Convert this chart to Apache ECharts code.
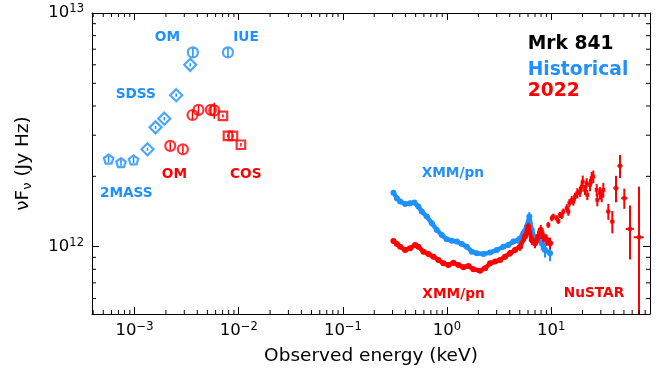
<!DOCTYPE html>
<html><head><meta charset="utf-8">
<script src="https://cdn.jsdelivr.net/npm/echarts@6/dist/echarts.min.js"></script>
<style>html,body{margin:0;padding:0;background:#fff}#c{width:662px;height:371px}</style>
</head><body><div id="c"></div>
<script>
// ---------- axis limits & ticks ----------
const X_MIN = 3.9e-4, X_MAX = 89;
const Y_MIN = 5.15e11, Y_MAX = 1e13;
const xMinorTicks = [4e-4,5e-4,6e-4,7e-4,8e-4,9e-4,2e-3,3e-3,4e-3,5e-3,6e-3,7e-3,8e-3,9e-3,
  2e-2,3e-2,4e-2,5e-2,6e-2,7e-2,8e-2,9e-2,0.2,0.3,0.4,0.5,0.6,0.7,0.8,0.9,2,3,4,5,6,7,8,9,20,30,40,50,60,70,80];
const yMinorTicks = [6e11,7e11,8e11,9e11,2e12,3e12,4e12,5e12,6e12,7e12,8e12,9e12];

// ---------- Historical (blue) ----------
const twoMassE = [5.63e-4, 7.40e-4, 9.78e-4];
const twoMassF = [2.37e12, 2.29e12, 2.35e12];
const twoMassErr = [0.07e12, 0.07e12, 0.07e12];
const sdssE = [1.33e-3, 1.59e-3, 1.93e-3, 2.51e-3, 3.42e-3];
const sdssF = [2.61e12, 3.24e12, 3.53e12, 4.45e12, 6.0e12];
const sdssErr = [0.04e12, 0.05e12, 0.06e12, 0.07e12, 0.1e12];
const omHistE = [3.63e-3];
const omHistF = [6.78e12];
const omHistErr = [0.3e12];
const iueE = [7.88e-3];
const iueF = [6.78e12];
const iueErr = [0.3e12];
const xmmHistE = [0.306,0.330,0.355,0.396,0.442,0.487,0.531,0.573,0.640,0.715,0.798,0.891,0.995,1.112,1.242,1.387,1.549,1.730,1.932,2.235,2.592,3.006,3.478,3.885,4.338,4.845,5.410,5.833,6.178,6.514,7.007,7.540,8.124,8.740,9.760];
const xmmHistF = [1.703,1.612,1.559,1.524,1.535,1.544,1.484,1.413,1.345,1.260,1.179,1.122,1.076,1.061,1.051,1.027,1.000,0.952,0.937,0.930,0.943,0.968,1.000,1.017,1.051,1.068,1.141,1.218,1.345,1.179,1.068,1.104,1.034,0.968,0.937];
const xmmHistErr = [0.01,0.01,0.01,0.01,0.01,0.01,0.01,0.01,0.01,0.01,0.01,0.01,0.01,0.01,0.01,0.01,0.01,0.01,0.015,0.015,0.02,0.02,0.025,0.03,0.03,0.04,0.05,0.06,0.06,0.06,0.06,0.07,0.07,0.07,0.07];

// ---------- 2022 (red) ----------
const omNewE = [2.20e-3, 2.91e-3, 3.60e-3, 4.11e-3, 5.41e-3, 5.82e-3];
const omNewF = [2.70e12, 2.61e12, 3.66e12, 3.85e12, 3.85e12, 3.83e12];
const omNewErr = [0.1e12, 0.1e12, 0.15e12, 0.15e12, 0.15e12, 0.3e12];
const cosE = [7.05e-3, 7.88e-3, 8.80e-3, 1.05e-2];
const cosF = [3.63e12, 2.98e12, 2.98e12, 2.73e12];
const cosErr = [0.06e12, 0.05e12, 0.05e12, 0.05e12];
const xmmNewE = [0.306,0.330,0.355,0.396,0.442,0.494,0.531,0.594,0.663,0.741,0.827,0.924,1.031,1.152,1.286,1.437,1.605,1.792,2.078,2.321,2.592,2.895,3.233,3.611,4.033,4.504,5.029,5.616,6.040,6.514,7.007,7.540,7.946,8.418,9.075,9.760];
const xmmNewF = [1.058,1.027,1.000,0.968,0.984,1.017,1.000,0.952,0.930,0.906,0.877,0.849,0.835,0.854,0.835,0.816,0.827,0.800,0.789,0.808,0.849,0.863,0.877,0.906,0.937,0.968,1.000,1.104,1.218,1.068,1.034,1.104,1.179,1.104,1.068,1.034];
const xmmNewErr = [0.01,0.01,0.01,0.01,0.01,0.01,0.01,0.01,0.01,0.01,0.01,0.01,0.01,0.01,0.01,0.01,0.01,0.01,0.015,0.015,0.02,0.02,0.02,0.025,0.03,0.03,0.04,0.05,0.05,0.05,0.05,0.06,0.06,0.06,0.06,0.06];
const nuE = [9.40,10.13,10.50,11.32,11.73,12.17,12.64,13.10,14.12,14.63,14.96,15.77,16.33,16.96,17.84,18.94,19.66,20.11,21.15,21.96,22.26,23.62,24.52,25.41,27.39,27.76,29.47,30.59,31.70,35.40,38.67,41.97,45.84,50.42,57.18,69.77];
const nuF = [1.239,1.323,1.345,1.323,1.288,1.367,1.354,1.413,1.461,1.413,1.535,1.585,1.559,1.637,1.694,1.720,1.807,1.899,1.750,1.869,1.665,1.838,1.969,1.995,1.750,1.585,1.694,1.649,1.750,1.413,1.280,1.779,2.217,1.612,1.191,1.097];
const nuErr = [0.037,0.040,0.040,0.040,0.039,0.041,0.041,0.042,0.058,0.057,0.061,0.063,0.062,0.065,0.085,0.086,0.090,0.116,0.088,0.093,0.083,0.112,0.120,0.122,0.107,0.097,0.103,0.101,0.124,0.11,0.14,0.23,0.25,0.16,0.31,0.71];
const nuXErr = [0.33,0.35,0.37,0.40,0.41,0.43,0.44,0.46,0.49,0.51,0.52,0.55,0.57,0.59,0.62,0.66,0.69,0.70,0.74,0.77,0.78,0.83,0.86,0.89,0.96,0.97,1.03,1.07,1.11,1.6,1.8,2.4,2.6,3.4,5.1,7.7];
const SCALE = 1e12; // XMM/NuSTAR arrays are in units of 1e12 Jy Hz

// ---------- styles ----------
const BLUE = '#1E90FF', RED = '#FF0000';
const FONT = '"DejaVu Sans", sans-serif';
const pentagon = 'path://M0,-10 L9.511,-3.09 L5.878,8.09 L-5.878,8.09 L-9.511,-3.09 Z';

function pts(E, F, k) { return E.map((e, i) => [e, F[i] * (k || 1)]); }
function errPts(E, F, ey, ex, k) { k = k || 1; return E.map((e, i) => [e, F[i] * k, ey[i] * k, ex ? ex[i] : 0]); }

function errRender(color, lw) {
  return function (params, api) {
    const x = api.value(0), y = api.value(1), ey = api.value(2), ex = api.value(3);
    const ch = [];
    if (ey > 0) {
      const top = api.coord([x, Math.min(y + ey, Y_MAX)]);
      const bot = api.coord([x, Math.max(y - ey, Y_MIN)]);
      ch.push({ type: 'line', shape: { x1: top[0], y1: top[1], x2: bot[0], y2: bot[1] }, style: { stroke: color, lineWidth: lw } });
    }
    if (ex > 0) {
      const l = api.coord([x - ex, y]), r = api.coord([x + ex, y]);
      ch.push({ type: 'line', shape: { x1: l[0], y1: l[1], x2: r[0], y2: r[1] }, style: { stroke: color, lineWidth: lw } });
    }
    return { type: 'group', children: ch };
  };
}
function errSeries(data, color, lw, z) {
  return { type: 'custom', renderItem: errRender(color, lw), data: data, encode: { x: 0, y: 1 },
    dimensions: ['x', 'y', 'ey', 'ex'], silent: true, clip: true, z: z || 3 };
}
function hollow(name, data, symbol, size, color) {
  return { name: name, type: 'scatter', data: data, symbol: symbol, symbolSize: size, symbolKeepAspect: true,
    itemStyle: { color: 'rgba(0,0,0,0)', borderColor: color, borderWidth: 2.2 }, z: 4, silent: true };
}
function tickRender(isX) {
  return function (params, api) {
    const v = api.value(isX ? 0 : 1);
    const ch = [];
    const st = { stroke: '#000', lineWidth: 1 };
    if (isX) {
      const b = api.coord([v, Y_MIN]), t = api.coord([v, Y_MAX]);
      ch.push({ type: 'line', shape: { x1: b[0], y1: b[1], x2: b[0], y2: b[1] - 4 }, style: st });
      ch.push({ type: 'line', shape: { x1: t[0], y1: t[1], x2: t[0], y2: t[1] + 4 }, style: st });
    } else {
      const l = api.coord([X_MIN, v]), r = api.coord([X_MAX, v]);
      ch.push({ type: 'line', shape: { x1: l[0], y1: l[1], x2: l[0] + 4, y2: l[1] }, style: st });
      ch.push({ type: 'line', shape: { x1: r[0], y1: r[1], x2: r[0] - 4, y2: r[1] }, style: st });
    }
    return { type: 'group', children: ch };
  };
}

function powLabel(v) {
  const p = Math.log10(v), r = Math.round(p);
  if (Math.abs(p - r) > 1e-6) return '';
  return '{b|10}{s|' + String(r).replace('-', '\u2212') + '}';
}
const labelRich = {
  b: { fontSize: 16.5, fontFamily: FONT, color: '#000', lineHeight: 20 },
  s: { fontSize: 11.5, fontFamily: FONT, color: '#000', lineHeight: 8, verticalAlign: 'top' }
};
function logAxis(extra) {
  return Object.assign({
    type: 'log', logBase: 10, splitLine: { show: false },
    axisLine: { show: true, onZero: false, lineStyle: { color: '#000', width: 1 } },
    axisTick: { show: true, inside: true, length: 7, lineStyle: { color: '#000', width: 1 } },
    minorTick: { show: false }
  }, extra);
}
function txt(s, x, y, color, size, align) {
  return { type: 'text', x: x, y: y, silent: true, z: 100,
    style: { text: s, fill: color, font: 'bold ' + size + 'px ' + FONT,
      textAlign: align, align: align, textVerticalAlign: 'middle', verticalAlign: 'middle' } };
}

const chart = echarts.init(document.getElementById('c'), null, { renderer: 'canvas' });
chart.setOption({
  animation: false,
  backgroundColor: '#fff',
  grid: { left: 92, right: 12, top: 13, bottom: 57 },
  xAxis: [
    logAxis({ min: X_MIN, max: X_MAX, position: 'bottom',
      name: 'Observed energy (keV)', nameLocation: 'middle', nameGap: 33,
      nameTextStyle: { fontSize: 18.5, fontFamily: FONT, color: '#000' },
      axisLabel: { margin: 7, formatter: powLabel, rich: labelRich, showMinLabel: true, showMaxLabel: true } }),
    logAxis({ min: X_MIN, max: X_MAX, position: 'top', axisLabel: { show: false } })
  ],
  yAxis: [
    logAxis({ min: Y_MIN, max: Y_MAX, position: 'left',
      name: '{a|\u03BDF}{u|\u03BD}{a| (Jy Hz)}', nameLocation: 'middle', nameGap: 58, nameRotate: 90,
      nameTextStyle: { rich: {
        a: { fontSize: 18.5, fontFamily: FONT, color: '#000', lineHeight: 22 },
        u: { fontSize: 13, fontFamily: FONT, color: '#000', lineHeight: 14, verticalAlign: 'bottom' } } },
      axisLabel: { margin: 8, formatter: powLabel, rich: labelRich, showMinLabel: true, showMaxLabel: true } }),
    logAxis({ min: Y_MIN, max: Y_MAX, position: 'right', axisLabel: { show: false } })
  ],
  series: [
    // minor ticks
    { type: 'custom', renderItem: tickRender(true), data: xMinorTicks.map(v => [v, Y_MIN]), encode: { x: 0, y: 1 }, clip: false, silent: true, z: 10 },
    { type: 'custom', renderItem: tickRender(false), data: yMinorTicks.map(v => [X_MIN, v]), encode: { x: 0, y: 1 }, clip: false, silent: true, z: 10 },
    // Historical
    errSeries(errPts(twoMassE, twoMassF, twoMassErr), BLUE, 1.5),
    hollow('2MASS', pts(twoMassE, twoMassF), pentagon, 9.5, BLUE),
    errSeries(errPts(sdssE, sdssF, sdssErr), BLUE, 1.5),
    hollow('SDSS', pts(sdssE, sdssF), 'diamond', 12, BLUE),
    errSeries(errPts(omHistE, omHistF, omHistErr), BLUE, 1.5),
    hollow('OM hist', pts(omHistE, omHistF), 'circle', 10, BLUE),
    errSeries(errPts(iueE, iueF, iueErr), BLUE, 1.5),
    hollow('IUE', pts(iueE, iueF), 'circle', 10, BLUE),
    { name: 'XMM hist', type: 'line', data: pts(xmmHistE, xmmHistF, SCALE), symbol: 'circle', symbolSize: 6, showSymbol: true,
      lineStyle: { color: BLUE, width: 4.5 }, itemStyle: { color: BLUE }, z: 3, silent: true },
    errSeries(errPts(xmmHistE, xmmHistF, xmmHistErr, null, SCALE), BLUE, 2),
    // 2022
    errSeries(errPts(omNewE, omNewF, omNewErr), RED, 1.5),
    hollow('OM 2022', pts(omNewE, omNewF), 'circle', 10, RED),
    errSeries(errPts(cosE, cosF, cosErr), RED, 1.5),
    hollow('COS', pts(cosE, cosF), 'rect', 8.5, RED),
    { name: 'XMM 2022', type: 'line', data: pts(xmmNewE, xmmNewF, SCALE), symbol: 'circle', symbolSize: 6, showSymbol: true,
      lineStyle: { color: RED, width: 4.5 }, itemStyle: { color: RED }, z: 4, silent: true },
    errSeries(errPts(xmmNewE, xmmNewF, xmmNewErr, null, SCALE), RED, 2, 4),
    errSeries(errPts(nuE, nuF, nuErr, nuXErr, SCALE), RED, 2, 5),
    { name: 'NuSTAR', type: 'scatter', data: pts(nuE, nuF, SCALE), symbol: 'rect', symbolSize: 4,
      itemStyle: { color: RED }, z: 5, silent: true }
  ],
  graphic: [
    txt('OM', 167.5, 37.5, BLUE, 13.7, 'center'),
    txt('IUE', 246, 37.5, BLUE, 13.7, 'center'),
    txt('SDSS', 135.8, 94.3, BLUE, 13.7, 'center'),
    txt('2MASS', 126.3, 193, BLUE, 13.7, 'center'),
    txt('OM', 174.5, 174, RED, 13.7, 'center'),
    txt('COS', 245.8, 174, RED, 13.7, 'center'),
    txt('XMM/pn', 452.8, 173.7, BLUE, 13.7, 'center'),
    txt('XMM/pn', 453.5, 294, RED, 13.7, 'center'),
    txt('NuSTAR', 594, 293, RED, 13.7, 'center'),
    txt('Mrk 841', 527.7, 44.2, '#000', 18.7, 'left'),
    txt('Historical', 527.7, 69.7, BLUE, 18.7, 'left'),
    txt('2022', 527.7, 91.2, RED, 18.7, 'left')
  ]
});
</script>
</body></html>
